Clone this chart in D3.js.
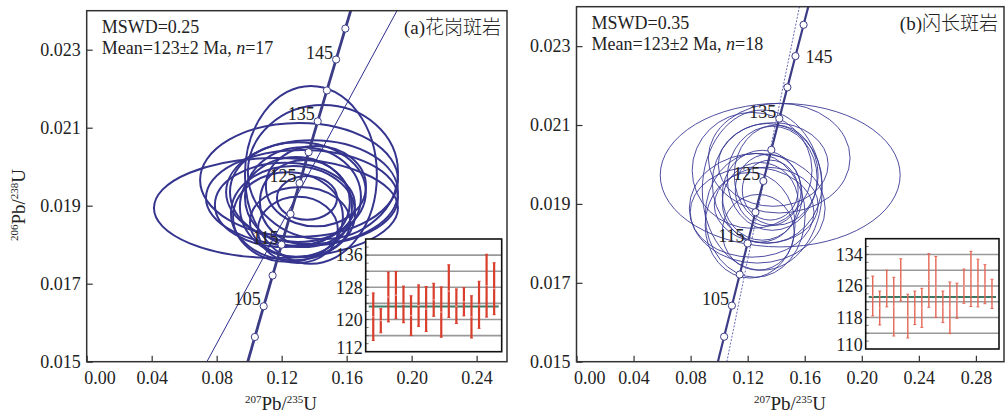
<!DOCTYPE html>
<html>
<head>
<meta charset="utf-8">
<script src="https://cdn.jsdelivr.net/npm/d3@7"></script>
<style>
  body { margin: 0; background: #fff; }
  svg { display: block; }
  text { font-family: "Liberation Serif", "Times New Roman", serif; fill: #222; }
  .cjk { font-family: "Noto Sans CJK SC", sans-serif; font-weight: 300; }
</style>
</head>
<body>
<svg id="chart" width="1005" height="415"></svg>
<script>
'use strict';

// concordia age marks (Ma)
const ageMarks = [100, 105, 110, 115, 120, 125, 130, 135, 140, 145, 150];
const ageLabels = [105, 115, 125, 135, 145];

const xTicksA = [0, 0.04, 0.08, 0.12, 0.16, 0.20, 0.24];
const xTicksB = [0, 0.04, 0.08, 0.12, 0.16, 0.20, 0.24, 0.28];
const yTicks = [0.015, 0.017, 0.019, 0.021, 0.023];

// error ellipses: [207Pb/235U, 206Pb/238U, half-width x, half-width y]
const ellipsesA = [
  [0.1165, 0.01894, 0.0751, 0.00128],
  [0.1380, 0.01979, 0.0406, 0.00228],
  [0.1454, 0.01986, 0.0462, 0.00172],
  [0.1307, 0.01966, 0.0609, 0.00146],
  [0.1325, 0.01920, 0.0591, 0.00123],
  [0.1387, 0.01935, 0.0529, 0.00133],
  [0.1300, 0.01935, 0.0418, 0.00128],
  [0.1331, 0.01922, 0.0357, 0.00128],
  [0.1288, 0.01897, 0.0345, 0.00128],
  [0.1270, 0.01881, 0.0382, 0.00121],
  [0.1239, 0.01871, 0.0338, 0.00115],
  [0.1343, 0.01909, 0.0277, 0.00108],
  [0.1356, 0.01920, 0.0185, 0.00056],
  [0.1313, 0.01858, 0.0308, 0.00090],
  [0.1220, 0.01902, 0.0431, 0.00108],
  [0.1411, 0.01950, 0.0308, 0.00103],
  [0.1300, 0.01838, 0.0246, 0.00085]
];
const ellipsesB = [
  [0.1428, 0.01973, 0.0841, 0.00182],
  [0.1267, 0.01889, 0.0476, 0.00139],
  [0.1421, 0.02016, 0.0497, 0.00139],
  [0.1231, 0.01985, 0.0420, 0.00147],
  [0.1302, 0.01935, 0.0420, 0.00203],
  [0.1253, 0.01871, 0.0350, 0.00157],
  [0.1217, 0.01846, 0.0315, 0.00134],
  [0.1337, 0.01952, 0.0385, 0.00152],
  [0.1372, 0.01965, 0.0315, 0.00132],
  [0.1302, 0.01922, 0.0280, 0.00114],
  [0.1344, 0.01935, 0.0231, 0.00091],
  [0.1288, 0.01904, 0.0266, 0.00101],
  [0.1400, 0.01973, 0.0294, 0.00127],
  [0.1231, 0.01879, 0.0434, 0.00114],
  [0.1379, 0.02000, 0.0385, 0.00106],
  [0.1274, 0.01828, 0.0252, 0.00096],
  [0.1330, 0.01897, 0.0364, 0.00096],
  [0.1358, 0.01935, 0.0196, 0.00076]
];

// thin reference lines (data endpoints)
const refLineA = [[0.074, 0.015], [0.191, 0.024]];
const refLineB = [[0.1054, 0.015], [0.1563, 0.024]];

// weighted-mean inset: [low, high] ages (Ma)
const barsA = [
  [114.8, 126.6], [116.7, 122.7], [119.4, 131.8], [120.2, 131.9], [119.2, 128.3],
  [116.0, 125.9], [118.3, 128.6], [117.0, 128.2], [120.8, 129.0], [115.6, 128.1],
  [120.5, 133.6], [119.0, 127.6], [120.9, 127.9], [115.4, 125.9], [117.8, 129.5],
  [120.6, 136.2], [121.2, 134.1]
];
const barsB = [
  [118.4, 128.5], [116.1, 124.7], [120.7, 130.0], [113.3, 128.2], [122.2, 132.9],
  [112.8, 123.9], [116.2, 124.7], [115.5, 125.4], [120.6, 134.2], [118.0, 133.5],
  [116.7, 124.7], [113.9, 127.0], [117.8, 126.7], [121.6, 130.3], [120.8, 134.8],
  [120.7, 132.8], [121.5, 131.4], [120.3, 127.7]
];
const meanA = 123.2, meanB = 123.2;
const insetGridA = [116, 120, 124, 128, 132, 136];
const insetGridB = [114, 118, 122, 126, 130, 134];
const insetLabelsA = [136, 128, 120, 112];
const insetLabelsB = [134, 126, 118, 110];

const l238 = 1.55125e-4, l235 = 9.8485e-4; // per Ma
const conc = t => [Math.exp(l235 * t) - 1, Math.exp(l238 * t) - 1];

const svg = d3.select("#chart");

function panel(o) {
  const g = svg.append("g");
  const [x0, y0, x1, y1] = o.box;
  const x = d3.scaleLinear().domain(o.xDom).range([x0, x1]);
  const y = d3.scaleLinear().domain([0.015, 0.024]).range([y1, y0]);

  g.append("clipPath").attr("id", "clip" + o.id)
    .append("rect").attr("x", x0).attr("y", y0).attr("width", x1 - x0).attr("height", y1 - y0);
  const plot = g.append("g").attr("clip-path", `url(#clip${o.id})`);

  plot.append("g")
    .attr("fill", "none")
    .attr("stroke", o.ellColor)
    .attr("stroke-width", o.ellWidth)
    .selectAll("ellipse")
    .data(o.ellipses)
    .join("ellipse")
      .attr("cx", d => x(d[0]))
      .attr("cy", d => y(d[1]))
      .attr("rx", d => x(d[0] + d[2]) - x(d[0]))
      .attr("ry", d => y(d[1] - d[3]) - y(d[1]));

  let line = d3.line().x(d => x(d[0])).y(d => y(d[1]));

  plot.append("path")
    .attr("d", line(o.refLine))
    .attr("fill", "none")
    .attr("stroke", o.refColor)
    .attr("stroke-width", o.refWidth)
    .attr("stroke-dasharray", o.refDash);

  let curve = d3.range(85, 165, 0.5).map(conc);
  plot.append("path")
    .attr("d", line(curve))
    .attr("fill", "none")
    .attr("stroke", "#3c3c86")
    .attr("stroke-width", o.concWidth);

  plot.append("g")
    .selectAll("circle")
    .data(ageMarks)
    .join("circle")
      .attr("cx", d => x(conc(d)[0]))
      .attr("cy", d => y(conc(d)[1]))
      .attr("r", 3.6)
      .attr("fill", "#fff")
      .attr("stroke", "#3c3c86")
      .attr("stroke-width", 1);

  g.append("g")
    .selectAll("text")
    .data(ageLabels)
    .join("text")
      .attr("x", d => x(conc(d)[0]) + (o.rightLabels.includes(d) ? 10 : -3))
      .attr("y", d => y(conc(d)[1]) + (o.rightLabels.includes(d) ? 7 : -1))
      .attr("text-anchor", d => o.rightLabels.includes(d) ? "start" : "end")
      .attr("font-size", 18)
      .text(d => d);

  // frame
  g.append("rect")
    .attr("x", x0).attr("y", y0).attr("width", x1 - x0).attr("height", y1 - y0)
    .attr("fill", "none").attr("stroke", "#333").attr("stroke-width", 1.5);

  let xAxis = g.append("g")
    .attr("transform", `translate(0,${y1})`)
    .call(d3.axisBottom(x).tickValues(o.xTicks).tickFormat(d3.format(".2f")).tickSize(-6).tickPadding(10));
  xAxis.select(".domain").remove();
  xAxis.selectAll("line").attr("stroke", "#333").attr("stroke-width", 1.2);
  xAxis.selectAll("text").attr("font-size", 18).attr("fill", "#222")
    .attr("font-family", '"Liberation Serif", serif');
  xAxis.selectAll("text").filter(d => d === 0).attr("text-anchor", "start").attr("x", -3);

  let yAxis = g.append("g")
    .attr("transform", `translate(${x0},0)`)
    .call(d3.axisLeft(y).tickValues(yTicks).tickFormat(d3.format(".3f")).tickSize(-6).tickPadding(6));
  yAxis.select(".domain").remove();
  yAxis.selectAll("line").attr("stroke", "#333").attr("stroke-width", 1.2);
  yAxis.selectAll("text").attr("font-size", 18).attr("fill", "#222")
    .attr("font-family", '"Liberation Serif", serif');

  // x title
  let xt = g.append("text")
    .attr("x", o.xTitleX).attr("y", 410)
    .attr("text-anchor", "middle")
    .attr("font-size", 19);
  xt.append("tspan").attr("font-size", 11).attr("dy", -7).text("207");
  xt.append("tspan").attr("dy", 7).text("Pb/");
  xt.append("tspan").attr("font-size", 11).attr("dy", -7).text("235");
  xt.append("tspan").attr("dy", 7).text("U");

  // stats text
  g.append("text").attr("x", x0 + 15).attr("y", o.statY)
    .attr("font-size", 18).text("MSWD=" + o.mswd);
  let mt = g.append("text").attr("x", x0 + 15).attr("y", o.statY + 21)
    .attr("font-size", 18);
  mt.append("tspan").text(`Mean=${o.mean}±2 Ma, `);
  mt.append("tspan").attr("font-style", "italic").text("n");
  mt.append("tspan").text("=" + o.n);

  let tt = g.append("text").attr("x", x1 - 6).attr("y", o.statY + 1)
    .attr("text-anchor", "end").attr("font-size", 19);
  tt.append("tspan").text(o.tag);
  tt.append("tspan").attr("class", "cjk").attr("font-size", 19).text(o.rock);

  // inset
  const [ix0, iy0, ix1, iy1] = o.inset;
  const ix = d3.scaleLinear().domain([0, o.bars.length + 1]).range([ix0, ix1]);
  const iy = d3.scaleLinear().domain(o.iyDom).range([iy1, iy0]);
  let ins = g.append("g");
  ins.append("rect")
    .attr("x", ix0).attr("y", iy0).attr("width", ix1 - ix0).attr("height", iy1 - iy0)
    .attr("fill", "#fff");
  ins.append("g")
    .selectAll("line")
    .data(o.grid)
    .join("line")
      .attr("x1", ix0).attr("x2", ix1)
      .attr("y1", d => iy(d)).attr("y2", d => iy(d))
      .attr("stroke", "#999").attr("stroke-width", 1.6);
  ins.append("g")
    .selectAll("line")
    .data(d3.range(o.iyDom[0] + 2, o.iyDom[1], 2))
    .join("line")
      .attr("x1", ix0).attr("x2", ix0 + 3)
      .attr("y1", d => iy(d)).attr("y2", d => iy(d))
      .attr("stroke", "#555").attr("stroke-width", 0.8);
  ins.append("line")
    .attr("x1", ix0 + 3).attr("x2", ix1 - 3)
    .attr("y1", iy(o.meanLine)).attr("y2", iy(o.meanLine))
    .attr("stroke", "#3d7a66").attr("stroke-width", 2);

  let bars = ins.append("g")
    .selectAll("g")
    .data(o.bars)
    .join("g")
      .attr("transform", (d, i) => `translate(${ix(i + 1)},0)`);
  bars.append("line")
    .attr("y1", d => iy(d[0])).attr("y2", d => iy(d[1]))
    .attr("stroke", o.barColor).attr("stroke-width", o.barWidth);
  bars.selectAll("line.cap")
    .data(d => d)
    .join("line")
      .attr("class", "cap")
      .attr("x1", -1.5).attr("x2", 1.5)
      .attr("y1", v => iy(v)).attr("y2", v => iy(v))
      .attr("stroke", o.barColor).attr("stroke-width", 1);
  bars.append("line")
    .attr("x1", -1.2).attr("x2", 1.2)
    .attr("y1", d => iy((d[0] + d[1]) / 2)).attr("y2", d => iy((d[0] + d[1]) / 2))
    .attr("stroke", "#f3b0a8").attr("stroke-width", 1);

  ins.append("rect")
    .attr("x", ix0).attr("y", iy0).attr("width", ix1 - ix0).attr("height", iy1 - iy0)
    .attr("fill", "none").attr("stroke", "#111").attr("stroke-width", 1.6);
  ins.append("g")
    .selectAll("text")
    .data(o.insetLabels)
    .join("text")
      .attr("x", ix0 - 3)
      .attr("y", d => Math.min(iy(d), iy1 - 4))
      .attr("dy", "0.35em")
      .attr("text-anchor", "end")
      .attr("font-size", 18)
      .text(d => d);
}

panel({
  id: "a", box: [86.7, 10.7, 507, 361.7], xDom: [0, 0.2587], xTicks: xTicksA,
  ellipses: ellipsesA, ellColor: "#35358f", ellWidth: 2,
  refLine: refLineA, refColor: "#2e2e8c", refWidth: 1, refDash: null,
  concWidth: 2.8, rightLabels: [],
  xTitleX: 281, statY: 33, mswd: "0.25", mean: 123, n: 17,
  tag: "(a)", rock: "花岗斑岩",
  inset: [365.7, 239, 501.7, 351.7], iyDom: [112, 140], bars: barsA,
  grid: insetGridA, meanLine: meanA, insetLabels: insetLabelsA,
  barColor: "#d93d2b", barWidth: 2.2
});

panel({
  id: "b", box: [576.5, 6.7, 1004, 361.7], xDom: [0, 0.2997], xTicks: xTicksB,
  ellipses: ellipsesB, ellColor: "#3a3a96", ellWidth: 0.9,
  refLine: refLineB, refColor: "#6a6ab8", refWidth: 1, refDash: "2,1.5",
  concWidth: 2.2, rightLabels: [145],
  xTitleX: 790, statY: 29, mswd: "0.35", mean: 123, n: 18,
  tag: "(b)", rock: "闪长斑岩",
  inset: [865.7, 238.7, 999, 349], iyDom: [110, 138], bars: barsB,
  grid: insetGridB, meanLine: meanB, insetLabels: insetLabelsB,
  barColor: "#e56554", barWidth: 1.4
});

// y-axis title (left panel only)
let yt = svg.append("text")
  .attr("transform", "translate(25,205) rotate(-90)")
  .attr("text-anchor", "middle")
  .attr("font-size", 19);
yt.append("tspan").attr("font-size", 11).attr("dy", -7).text("206");
yt.append("tspan").attr("dy", 7).text("Pb/");
yt.append("tspan").attr("font-size", 11).attr("dy", -7).text("238");
yt.append("tspan").attr("dy", 7).text("U");
</script>
</body>
</html>
